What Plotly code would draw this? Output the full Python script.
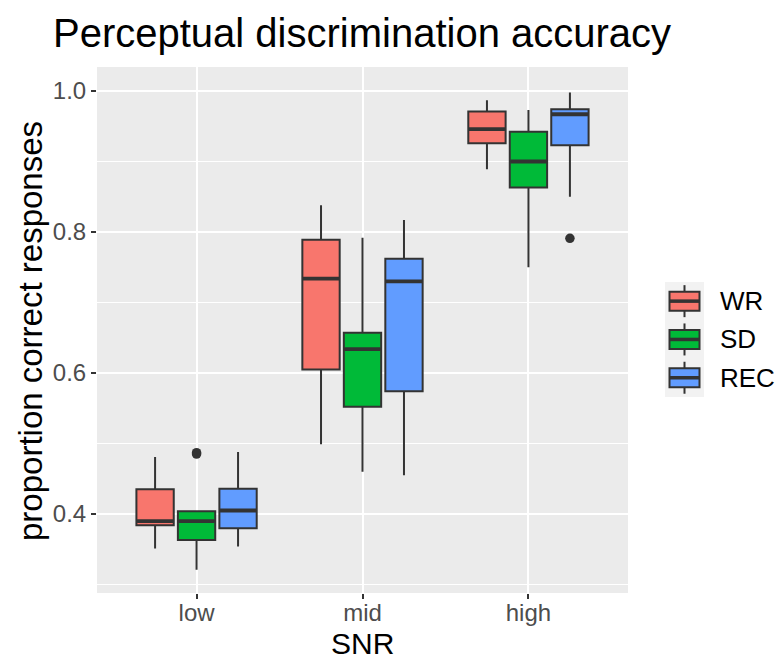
import plotly.graph_objects as go

# ---------------- data ----------------
groups = ["low", "mid", "high"]
series = ["WR", "SD", "REC"]
colors = ["#F8766D", "#00BA38", "#619CFF"]

lowerfence = {"WR": [0.351, 0.499, 0.889], "SD": [0.321, 0.460, 0.750], "REC": [0.354, 0.455, 0.850]}
q1 = {"WR": [0.384, 0.605, 0.926], "SD": [0.363, 0.552, 0.863], "REC": [0.380, 0.574, 0.923]}
median = {"WR": [0.390, 0.734, 0.946], "SD": [0.390, 0.634, 0.900], "REC": [0.405, 0.730, 0.967]}
q3 = {"WR": [0.435, 0.789, 0.971], "SD": [0.404, 0.657, 0.942], "REC": [0.436, 0.762, 0.974]}
upperfence = {"WR": [0.481, 0.838, 0.987], "SD": [0.404, 0.792, 0.973], "REC": [0.488, 0.817, 0.998]}
outlier_group = {"WR": [], "SD": ["low", "low"], "REC": ["high"]}
outlier_value = {"WR": [], "SD": [0.487, 0.485], "REC": [0.791]}

y_ticks = [0.4, 0.6, 0.8, 1.0]
y_tick_labels = ["0.4", "0.6", "0.8", "1.0"]

# ---------------- layout helpers ----------------
W, H = 777, 661
PL, PR, PT, PB = 97, 628, 67, 593
FONT = "Liberation Sans, Arial, Helvetica, sans-serif"
DARK = "#333333"
dodge = 0.25
box_w = 0.225

def px2x(px):
    return (px - PL) / (PR - PL)

def px2y(py):
    return (PB - py) / (PB - PT)

fig = go.Figure()

for i, s in enumerate(series):
    off = (i - 1) * dodge
    xs = [groups.index(g) + 1 + off for g in groups]
    fig.add_trace(go.Box(
        x=xs, q1=q1[s], median=median[s], q3=q3[s],
        lowerfence=lowerfence[s], upperfence=upperfence[s],
        width=box_w, fillcolor=colors[i],
        line=dict(color=DARK, width=2), whiskerwidth=0,
        boxpoints=False, name=s, showlegend=False, hoverinfo="skip",
    ))
    # thicker median bars (ggplot fatten)
    mx, my = [], []
    for x, m in zip(xs, median[s]):
        mx += [x - box_w / 2 + 0.004, x + box_w / 2 - 0.004, None]
        my += [m, m, None]
    fig.add_trace(go.Scatter(x=mx, y=my, mode="lines",
                             line=dict(color=DARK, width=3.8),
                             showlegend=False, hoverinfo="skip"))
    if outlier_value[s]:
        ox = [groups.index(g) + 1 + off for g in outlier_group[s]]
        fig.add_trace(go.Scatter(x=ox, y=outlier_value[s], mode="markers",
                                 marker=dict(color=DARK, size=9.5, line=dict(width=0)),
                                 showlegend=False, hoverinfo="skip"))

# ---------------- manual legend ----------------
shapes = []
annotations = []
key_top = 282
key_h = 38.3
shapes.append(dict(type="rect", xref="paper", yref="paper",
                   x0=px2x(665), x1=px2x(704), y0=px2y(key_top), y1=px2y(key_top + 3 * key_h),
                   fillcolor="#F2F2F2", line=dict(width=0), layer="below"))
for i, s in enumerate(series):
    cy = key_top + key_h * (i + 0.5)
    shapes.append(dict(type="line", xref="paper", yref="paper",
                       x0=px2x(684.5), x1=px2x(684.5), y0=px2y(cy - 16), y1=px2y(cy + 16),
                       line=dict(color=DARK, width=2)))
    shapes.append(dict(type="rect", xref="paper", yref="paper",
                       x0=px2x(669.5), x1=px2x(699.5), y0=px2y(cy - 9.5), y1=px2y(cy + 9.5),
                       fillcolor=colors[i], line=dict(color=DARK, width=2)))
    shapes.append(dict(type="line", xref="paper", yref="paper",
                       x0=px2x(669.5), x1=px2x(699.5), y0=px2y(cy), y1=px2y(cy),
                       line=dict(color=DARK, width=3.5)))
    annotations.append(dict(text=s, xref="paper", yref="paper", x=px2x(718), y=px2y(cy),
                            xanchor="left", yanchor="middle", showarrow=False,
                            font=dict(family=FONT, size=26, color="black")))

# axis titles as annotations for exact placement
annotations.append(dict(text="SNR", xref="paper", yref="paper", x=px2x(362), y=px2y(644),
                        xanchor="center", yanchor="middle", showarrow=False,
                        font=dict(family=FONT, size=30, color="black")))
annotations.append(dict(text="proportion correct responses", xref="paper", yref="paper",
                        x=px2x(30), y=px2y(331), textangle=-90,
                        xanchor="center", yanchor="middle", showarrow=False,
                        font=dict(family=FONT, size=33, color="black")))

fig.update_layout(
    width=W, height=H,
    margin=dict(l=PL, r=W - PR, t=PT, b=H - PB),
    paper_bgcolor="white", plot_bgcolor="#EBEBEB",
    font=dict(family=FONT),
    title=dict(text="Perceptual discrimination accuracy", xref="container", yref="container",
               x=53 / W, xanchor="left", y=1 - 33 / H, yanchor="middle",
               font=dict(family=FONT, size=40, color="black")),
    shapes=shapes, annotations=annotations,
    showlegend=False,
)
fig.update_xaxes(
    range=[0.4, 3.6], tickmode="array", tickvals=[1, 2, 3], ticktext=groups,
    showgrid=True, gridcolor="white", gridwidth=1.8, zeroline=False,
    ticks="outside", ticklen=5, tickwidth=2, tickcolor=DARK, ticklabelstandoff=-7,
    tickfont=dict(family=FONT, size=24, color="#4D4D4D"),
    showline=False, automargin=False,
)
fig.update_yaxes(
    range=[0.288, 1.034], tickmode="array", tickvals=y_ticks, ticktext=y_tick_labels,
    showgrid=True, gridcolor="white", gridwidth=1.8, zeroline=False,
    minor=dict(showgrid=True, gridcolor="white", gridwidth=0.9, tickvals=[0.3, 0.5, 0.7, 0.9]),
    ticks="outside", ticklen=5, tickwidth=2, tickcolor=DARK,
    tickfont=dict(family=FONT, size=24, color="#4D4D4D"),
    showline=False, automargin=False,
)

fig.write_html("out.html")
